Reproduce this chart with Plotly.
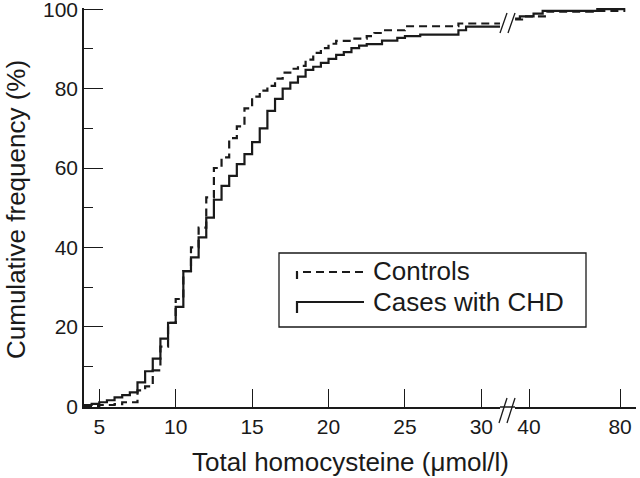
import plotly.graph_objects as go

# ---- data ----
# Linear part of the x axis (µmol/l), cumulative % after each step
cases_x_lo = [4.0, 4.5, 5.0, 5.5, 6.0, 6.5, 7.0, 7.5, 8.0, 8.5, 9.0, 9.5, 10.0, 10.5,
              11.0, 11.5, 12.0, 12.5, 13.0, 13.5, 14.0, 14.5, 15.0, 15.5, 16.0, 16.5,
              17.0, 17.5, 18.0, 18.5, 19.0, 19.5, 20.0, 20.5, 21.0, 21.5, 22.0, 22.5,
              23.5, 24.5, 25.0, 26.0, 28.5, 29.0, 31.3]
cases_y_lo = [0.3, 0.6, 1.0, 1.5, 2.2, 2.8, 3.5, 6.0, 8.8, 12.0, 17.0, 21.0, 25.0, 34.0,
              37.5, 42.5, 47.5, 52.0, 55.5, 58.0, 61.0, 63.5, 66.5, 70.0, 74.4, 77.4,
              80.0, 81.5, 83.0, 84.7, 85.5, 86.5, 87.5, 88.5, 89.2, 90.2, 90.8, 91.2,
              92.1, 92.8, 93.2, 93.6, 94.7, 95.6, 95.6]

controls_x_lo = [4.0, 5.0, 6.0, 6.5, 7.5, 8.0, 8.5, 9.0, 9.5, 10.0, 10.5, 11.0, 11.5,
                 12.0, 12.5, 13.0, 13.5, 14.0, 14.5, 15.0, 15.5, 16.0, 16.5, 17.0, 17.5,
                 18.0, 18.5, 19.0, 19.5, 20.0, 20.5, 21.5, 22.5, 23.0, 23.5, 25.0, 28.5, 31.3]
controls_y_lo = [0.0, 0.3, 0.5, 1.0, 4.0, 5.0, 9.0, 15.0, 21.0, 27.0, 34.0, 40.0, 45.0,
                 52.6, 60.0, 62.7, 67.5, 70.5, 75.0, 78.0, 79.5, 80.7, 82.5, 84.0, 85.0,
                 85.7, 87.3, 89.0, 90.2, 91.3, 92.0, 92.6, 93.2, 94.0, 94.7, 95.7, 96.4, 96.4]

# Compressed part beyond the axis break
cases_x_hi = [33.9, 36.0, 42.0, 46.0, 70.0, 82.3]
cases_y_hi = [97.6, 98.2, 98.9, 99.6, 100.0, 100.0]
controls_x_hi = [33.9, 38.0, 48.0, 68.0, 82.3]
controls_y_hi = [97.4, 98.2, 99.4, 99.6, 99.6]

x_ticks_lo = [5, 10, 15, 20, 25, 30]
x_ticks_hi = [40, 80]
y_ticks = [0, 20, 40, 60, 80, 100]

FONT = "Liberation Sans, Arial, Helvetica, sans-serif"
INK = "#1a1a1a"
LW = 2.2
DASH = "8px,5px"

fig = go.Figure()
fig.add_trace(go.Scatter(x=controls_x_lo, y=controls_y_lo, mode="lines", line_shape="hv",
                         line=dict(color=INK, width=LW, dash=DASH), name="Controls",
                         xaxis="x", yaxis="y", showlegend=False))
fig.add_trace(go.Scatter(x=cases_x_lo, y=cases_y_lo, mode="lines", line_shape="hv",
                         line=dict(color=INK, width=LW), name="Cases with CHD",
                         xaxis="x", yaxis="y", showlegend=False))
fig.add_trace(go.Scatter(x=controls_x_hi, y=controls_y_hi, mode="lines", line_shape="hv",
                         line=dict(color=INK, width=LW, dash=DASH), name="Controls",
                         xaxis="x2", yaxis="y", showlegend=False))
fig.add_trace(go.Scatter(x=cases_x_hi, y=cases_y_hi, mode="lines", line_shape="hv",
                         line=dict(color=INK, width=LW), name="Cases with CHD",
                         xaxis="x2", yaxis="y", showlegend=False))

W, H = 640, 478
L, R, T, B = 84, 4, 8, 71
pw, ph = W - L - R, H - T - B


def px(xp):
    return (xp - L) / pw


def py(yp):
    return (H - B - yp) / ph


d1_end = px(500)
d2_start = px(515)

axis_common = dict(showline=True, linecolor=INK, linewidth=1.5, ticks="inside",
                   ticklen=18, tickwidth=1.3, tickcolor=INK, showgrid=False,
                   zeroline=False, mirror=False, ticklabeloverflow="allow",
                   tickfont=dict(family=FONT, size=21, color=INK))

fig.update_layout(
    width=W, height=H,
    margin=dict(l=L, r=R, t=T, b=B, autoexpand=False),
    paper_bgcolor="white", plot_bgcolor="white",
    font=dict(family=FONT, color=INK),
    xaxis=dict(domain=[0, d1_end], range=[4.0, 31.22], tickvals=x_ticks_lo,
               anchor="y", **axis_common),
    xaxis2=dict(domain=[d2_start, 1], range=[33.85, 87.0], tickvals=x_ticks_hi,
                anchor="y", **axis_common),
    yaxis=dict(range=[-0.2, 100.3], tickvals=y_ticks, anchor="x",
               minor=dict(ticks="inside", ticklen=9, tickwidth=1.3, tickcolor=INK,
                          dtick=10, tick0=0, showgrid=False),
               **axis_common),
)
fig.update_yaxes(ticklen=19)

shapes = []
# axis line under the break
shapes.append(dict(type="line", xref="paper", yref="paper", x0=d1_end, x1=d2_start,
                   y0=0, y1=0, line=dict(color=INK, width=1.5)))
# break marks (bottom, on the axis)
for a, b in [(499, 507), (507, 515)]:
    shapes.append(dict(type="line", xref="paper", yref="paper",
                       x0=px(a), x1=px(b), y0=py(423), y1=py(398),
                       line=dict(color=INK, width=1.3)))
# break marks (top, through the curves)
for a, b in [(500, 507), (508, 515)]:
    shapes.append(dict(type="line", xref="paper", yref="paper",
                       x0=px(a), x1=px(b), y0=py(33), y1=py(13),
                       line=dict(color=INK, width=1.3)))
# legend box
shapes.append(dict(type="rect", xref="paper", yref="paper",
                   x0=px(279), x1=px(586), y0=py(327), y1=py(253),
                   line=dict(color=INK, width=1.3), fillcolor="white", layer="above"))
# legend samples
shapes.append(dict(type="path", xref="paper", yref="paper", layer="above",
                   path=f"M {px(297)},{py(279)} L {px(297)},{py(272)} L {px(364)},{py(272)}",
                   line=dict(color=INK, width=LW, dash=DASH)))
shapes.append(dict(type="path", xref="paper", yref="paper", layer="above",
                   path=f"M {px(297)},{py(313)} L {px(297)},{py(302)} L {px(364)},{py(302)}",
                   line=dict(color=INK, width=LW)))

annotations = [
    dict(text="Controls", xref="paper", yref="paper", x=px(371), y=py(271),
         xanchor="left", yanchor="middle", showarrow=False,
         font=dict(family=FONT, size=26, color=INK)),
    dict(text="Cases with CHD", xref="paper", yref="paper", x=px(371), y=py(302),
         xanchor="left", yanchor="middle", showarrow=False,
         font=dict(family=FONT, size=26, color=INK)),
    dict(text="Total homocysteine (μmol/l)", xref="paper", yref="paper",
         x=px(350), y=py(462), xanchor="center", yanchor="middle", showarrow=False,
         font=dict(family=FONT, size=26, color=INK)),
    dict(text="Cumulative frequency (%)", xref="paper", yref="paper",
         x=px(16), y=py(210), xanchor="center", yanchor="middle", showarrow=False,
         textangle=-90, font=dict(family=FONT, size=26, color=INK)),
]

fig.update_layout(shapes=shapes, annotations=annotations)
fig.write_html("out.html", config={"displayModeBar": False},
               post_script="document.body.style.margin='0';")
